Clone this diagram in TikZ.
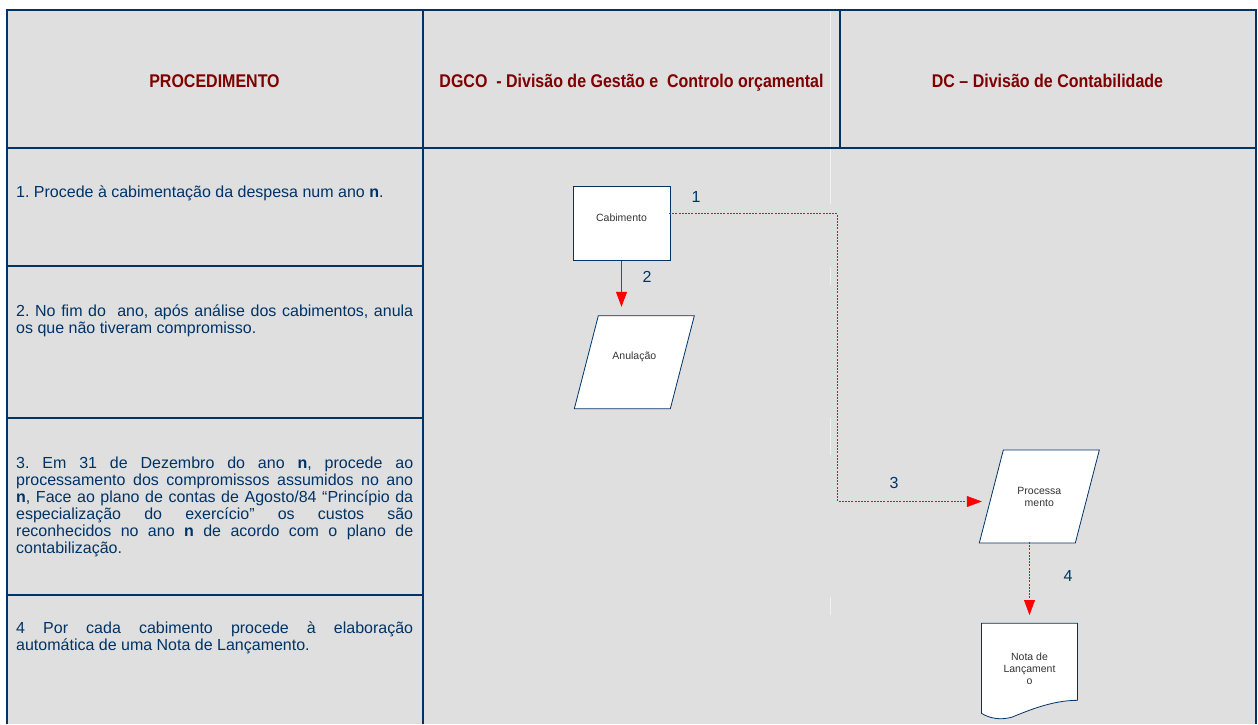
\documentclass[tikz,border=0pt]{standalone}
\usepackage{fontspec}
\setmainfont{Liberation Sans}
\usetikzlibrary{arrows.meta,decorations.markings}

\definecolor{frameBlue}{RGB}{0,51,102}
\definecolor{headRed}{RGB}{128,0,0}
\definecolor{laneGray}{RGB}{223,223,223}

\pgfdeclarelayer{bg}
\pgfdeclarelayer{mid}
\pgfsetlayers{bg,mid,main}

\begin{document}
\begin{tikzpicture}
[x=1pt,y=-1pt,
  gridDecorate/.style={draw=frameBlue,line width=2pt},
  faintDecorate/.style={draw=white!55!laneGray,line width=1pt},
  headDecorate/.style={anchor=base,inner sep=0pt,text=headRed,font=\fontsize{16}{18}\selectfont\bfseries},
  stepDecorate/.style={anchor=base west,inner sep=0pt,text width=397pt,align=justify,text=frameBlue,font=\fontsize{16}{17}\selectfont\frenchspacing},
  numDecorate/.style={anchor=base,inner sep=0pt,text=frameBlue,font=\fontsize{16}{18}\selectfont},
  nodeDecorate/.style={shape=rectangle,inner sep=0pt,outer sep=0pt,align=center,text=black!80,font=\fontsize{10.5}{12}\selectfont},
  boxDecorate/.style={nodeDecorate,draw=frameBlue,line width=0.8pt,fill=white,minimum width=97pt,minimum height=74pt},
  ioDecorate/.style={nodeDecorate,minimum width=120pt,minimum height=93pt},
  docDecorate/.style={nodeDecorate,minimum width=96pt,minimum height=90pt},
  raiseText/.style={text height=8pt,text depth=13pt},
  outlineDecorate/.style={draw=frameBlue,line width=0.8pt,fill=white},
  lineDecorate/.style={-{Triangle[length=15pt,width=11pt]},red,line width=1pt},
  dotDecorate/.style={postaction={decorate},decoration={markings,
    mark=between positions 0 and 1 step 3.2pt with {\fill[red] (-1pt,-0.7pt) rectangle (1pt,0.7pt);},
    mark=at position 1 with {\arrow[red]{Triangle[length=15pt,width=11pt]}}}}]
\useasboundingbox (0,0) rectangle (1258,724);

%% lanes and grid
\begin{pgfonlayer}{bg}
\fill[white] (0,0) rectangle (1258,724);
\fill[laneGray] (7,10) rectangle (1256,724);
\foreach \ya/\yb in {11/204, 267/285, 418/455, 597/615}
{
  \draw[faintDecorate] (830,\ya) -- (830,\yb);
}
\draw[gridDecorate] (7,724) -- (7,10.3) -- (1256,10.3) -- (1256,724);
\draw[gridDecorate,line width=1.5pt] (7,148) -- (1256,148);
\draw[gridDecorate] (423,10) -- (423,724);
\draw[gridDecorate] (839.5,10) -- (839.5,149);
\foreach \y in {266.3, 417.7, 594.5}
{
  \draw[gridDecorate] (7,\y) -- (423,\y);
}
\end{pgfonlayer}

%% headers
\foreach \nodename/\x/\txt in {headProc/214.5/PROCEDIMENTO,
  headDgco/631.5/{DGCO\ \ - Divisão de Gestão e\ \ Controlo orçamental},
  headDc/1047.5/{DC – Divisão de Contabilidade}}
{
  \node (\nodename) at (\x,87) [headDecorate] {\scalebox{1}[1.15]{\txt}};
}

%% steps
\node (step1) at (16,197) [stepDecorate] {1. Procede à cabimentação da despesa num ano \textbf{n}.};
\node (step2) at (16,316.7) [stepDecorate] {2. No fim do\ \ ano, após análise dos cabimentos, anula\linebreak
  os que não tiveram compromisso.};
\node (step3) at (16,468.3) [stepDecorate] {3. Em 31 de Dezembro do ano \textbf{n}, procede ao\linebreak
  processamento dos compromissos assumidos no ano\linebreak
  \textbf{n}, Face ao plano de contas de Agosto/84 “Princípio da\linebreak
  especialização do exercício” os custos são\linebreak
  reconhecidos no ano \textbf{n} de acordo com o plano de\linebreak
  contabilização.};
\node (step4) at (16,633.3) [stepDecorate] {4 Por cada cabimento procede à elaboração\linebreak
  automática de uma Nota de Lançamento.};

%% nodes or vertices
\node (cab) at (621.5,223.5) [boxDecorate,raiseText] {Cabimento};
\node (anul) at (634.3,362.3) [ioDecorate,raiseText] {Anulação};
\node (proc) at (1039.3,496.5) [ioDecorate] {Processa\\mento};
\node (nota) at (1029.5,668.3) [docDecorate] {Nota de\\Lançament\\o};

\begin{pgfonlayer}{mid}
\foreach \nodename in {anul,proc}
{
  \draw[outlineDecorate] ([xshift=24pt]\nodename.north west) -- (\nodename.north east)
    -- ([xshift=-24pt]\nodename.south east) -- (\nodename.south west) -- cycle;
}
\draw[outlineDecorate] (nota.south west) -- (nota.north west) -- (nota.north east)
  -- ([yshift=13pt]nota.south east)
  .. controls ([xshift=70pt,yshift=13pt]nota.south west) and ([xshift=45pt,yshift=2pt]nota.south west)
  .. ([xshift=30pt,yshift=-4pt]nota.south west)
  .. controls ([xshift=18pt,yshift=-7pt]nota.south west) and ([xshift=8pt,yshift=-5pt]nota.south west)
  .. (nota.south west) -- cycle;
\end{pgfonlayer}

%% numbers
\foreach \num/\x/\y in {1/696/202, 2/647/282, 3/894/488, 4/1068/581}
{
  \node (lab\num) at (\x,\y) [numDecorate] {\num};
}

%% edges or lines
\draw[lineDecorate,shorten >=9pt] (cab.south) -- (cab.south |- anul.north);
\path[dotDecorate] ([yshift=10pt]cab.east) -- ++(167.5,0) |- ([xshift=2.5pt,yshift=-5pt]proc.west);
\path[dotDecorate] (nota.north |- proc.south) -- ([yshift=8.3pt]nota.north);
\end{tikzpicture}
\end{document}
